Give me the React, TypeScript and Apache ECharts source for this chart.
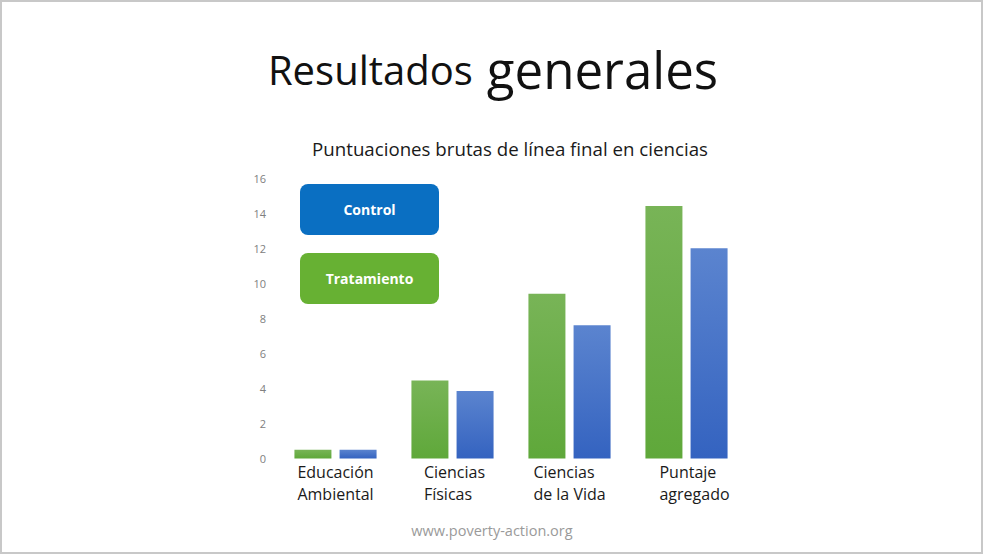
import React, { useEffect, useRef } from "react";
import * as echarts from "echarts";

const categories = ["Educación\nAmbiental", "Ciencias\nFísicas", "Ciencias\nde la Vida", "Puntaje\nagregado"];
const labelStyles = ["e", "f", "v", "p"];
const tratamiento = [0.5, 4.45, 9.4, 14.4];
const control = [0.5, 3.85, 7.6, 12.0];
const seriesNames = ["Tratamiento", "Control"];
const yTicks = { min: 0, max: 16, interval: 2 };

const FONT = "'Open Sans', Lato, sans-serif";

export default function App() {
  const ref = useRef<HTMLDivElement>(null);
  useEffect(() => {
    if (!ref.current) return;
    const chart = echarts.init(ref.current, null, { renderer: "svg" });
    const green = new echarts.graphic.LinearGradient(0, 0, 0, 1, [
      { offset: 0, color: "#78b457" },
      { offset: 1, color: "#5fa83a" },
    ]);
    const blue = new echarts.graphic.LinearGradient(0, 0, 0, 1, [
      { offset: 0, color: "#5b84cf" },
      { offset: 1, color: "#3463c0" },
    ]);
    const richBase = { fontSize: 16, lineHeight: 22, color: "#1a1a1a", fontFamily: FONT, align: "left" as const };
    chart.setOption({
      animation: false,
      backgroundColor: "#ffffff",
      textStyle: { fontFamily: FONT },
      title: [
        {
          text: "{a|Resultados}{s| }{b|generales}",
          left: 493,
          textAlign: "center",
          top: 39,
          padding: 0,
          textStyle: {
            fontWeight: "normal",
            rich: {
              a: { fontSize: 40, fontWeight: "normal", color: "#111", fontFamily: FONT, lineHeight: 60 },
              s: { fontSize: 40, fontWeight: "normal", color: "#111", fontFamily: FONT, lineHeight: 60, width: 14 },
              b: { fontSize: 51, fontWeight: "normal", color: "#111", fontFamily: FONT, lineHeight: 60 },
            },
          },
        },
        {
          text: "Puntuaciones brutas de línea final en ciencias",
          left: 510,
          textAlign: "center",
          top: 139,
          padding: 0,
          textStyle: { fontSize: 18.7, fontWeight: "normal", color: "#1a1a1a", fontFamily: FONT },
        },
        {
          text: "www.poverty-action.org",
          left: 492,
          textAlign: "center",
          top: 523,
          padding: 0,
          textStyle: { fontSize: 14.5, fontWeight: "normal", color: "#9a9a9a", fontFamily: FONT },
        },
      ],
      grid: { left: 277, right: 239, top: 178, bottom: 97.5, containLabel: false },
      xAxis: {
        type: "category",
        data: categories,
        axisLine: { show: false },
        axisTick: { show: false },
        axisLabel: {
          margin: 2,
          interval: 0,
          formatter: (value: string, idx: number) =>
            value
              .split("\n")
              .map((l) => `{${labelStyles[idx]}|${l}}`)
              .join("\n"),
          rich: {
            e: { ...richBase },
            f: { ...richBase, padding: [0, 0, 0, 4] },
            v: { ...richBase },
            p: { ...richBase, padding: [0, 0, 0, 16] },
          },
        },
      },
      yAxis: {
        type: "value",
        min: yTicks.min,
        max: yTicks.max,
        interval: yTicks.interval,
        axisLine: { show: false },
        axisTick: { show: false },
        splitLine: { show: false },
        axisLabel: { color: "#808080", fontSize: 11, margin: 11, fontFamily: FONT },
      },
      series: [
        {
          name: seriesNames[0],
          type: "bar",
          data: tratamiento,
          barWidth: 37,
          barGap: "22%",
          itemStyle: { color: green },
        },
        {
          name: seriesNames[1],
          type: "bar",
          data: control,
          barWidth: 37,
          barGap: "22%",
          itemStyle: { color: blue },
        },
      ],
      graphic: [
        {
          type: "rect",
          shape: { x: 1, y: 1, width: 981, height: 552 },
          style: { fill: "none", stroke: "#c8c8c8", lineWidth: 2 },
          silent: true,
        },
        {
          type: "group",
          left: 300,
          top: 184,
          children: [
            {
              type: "rect",
              shape: { x: 0, y: 0, width: 139, height: 51, r: 8 },
              style: { fill: "#0a6fc2" },
            },
            {
              type: "text",
              x: 69.5,
              y: 25.5,
              style: {
                text: seriesNames[1],
                fill: "#ffffff",
                font: `bold 14px ${FONT}`,
                textAlign: "center",
                textVerticalAlign: "middle",
              },
            },
            {
              type: "rect",
              shape: { x: 0, y: 69, width: 139, height: 51, r: 8 },
              style: { fill: "#67b133" },
            },
            {
              type: "text",
              x: 69.5,
              y: 94.5,
              style: {
                text: seriesNames[0],
                fill: "#ffffff",
                font: `bold 14px ${FONT}`,
                textAlign: "center",
                textVerticalAlign: "middle",
              },
            },
          ],
        },
      ],
    });
    return () => chart.dispose();
  }, []);
  return (
    <div
      ref={ref}
      style={{ position: "fixed", left: 0, top: 0, width: 984, height: 556 }}
    />
  );
}
